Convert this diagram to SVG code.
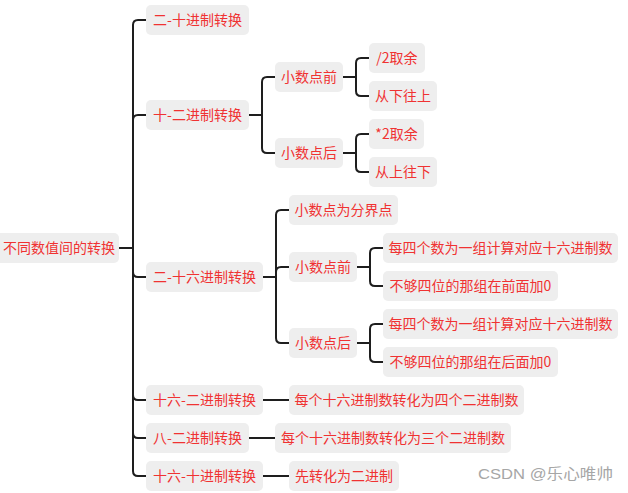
<svg xmlns="http://www.w3.org/2000/svg" width="628" height="493" viewBox="0 0 628 493">
<style>
.box{fill:#eeeeee}
.t{font-family:"Noto Sans CJK SC","Microsoft YaHei",sans-serif;font-size:14px;fill:#f03232;text-anchor:middle}
.c{fill:none;stroke:#1e1e1e;stroke-width:2}
.wm{font-family:"Liberation Sans","Noto Sans CJK SC",sans-serif;font-size:15px;fill:#a6a6a6}
</style>
<rect width="628" height="493" fill="#ffffff"/>
<g id="connectors">
<path class="c" d="M119,248 H133"/>
<path class="c" d="M133,248 V25 Q133,20 138,20 H146"/>
<path class="c" d="M133,248 V120 Q133,115 138,115 H146"/>
<path class="c" d="M133,248 V272 Q133,277 138,277 H146"/>
<path class="c" d="M133,248 V395 Q133,400 138,400 H146"/>
<path class="c" d="M133,248 V433 Q133,438 138,438 H146"/>
<path class="c" d="M133,248 V471 Q133,476 138,476 H146"/>
<path class="c" d="M249,115 H262"/>
<path class="c" d="M262,115 V82 Q262,77 267,77 H275"/>
<path class="c" d="M262,115 V148 Q262,153 267,153 H275"/>
<path class="c" d="M343,77 H356"/>
<path class="c" d="M356,77 V63 Q356,58 361,58 H369"/>
<path class="c" d="M356,77 V91 Q356,96 361,96 H369"/>
<path class="c" d="M343,153 H356"/>
<path class="c" d="M356,153 V139 Q356,134 361,134 H369"/>
<path class="c" d="M356,153 V167 Q356,172 361,172 H369"/>
<path class="c" d="M263,277 H276"/>
<path class="c" d="M276,277 V215 Q276,210 281,210 H289"/>
<path class="c" d="M276,277 V272 Q276,267 281,267 H289"/>
<path class="c" d="M276,277 V338 Q276,343 281,343 H289"/>
<path class="c" d="M357,267 H370"/>
<path class="c" d="M370,267 V253 Q370,248 375,248 H383"/>
<path class="c" d="M370,267 V281 Q370,286 375,286 H383"/>
<path class="c" d="M357,343 H370"/>
<path class="c" d="M370,343 V329 Q370,324 375,324 H383"/>
<path class="c" d="M370,343 V357 Q370,362 375,362 H383"/>
<path class="c" d="M263,400 H289"/>
<path class="c" d="M249,438 H275"/>
<path class="c" d="M263,476 H289"/>
</g>
<g id="root"><rect class="box" x="-4" y="233" width="123" height="30" rx="5"/><text class="t" x="59" y="253">不同数值间的转换</text></g>
<g id="n1"><rect class="box" x="146" y="5" width="103" height="30" rx="5"/><text class="t" x="197.5" y="25">二-十进制转换</text></g>
<g id="n2"><rect class="box" x="146" y="100" width="103" height="30" rx="5"/><text class="t" x="197.5" y="120">十-二进制转换</text></g>
<g id="n2a"><rect class="box" x="275" y="62" width="68" height="30" rx="5"/><text class="t" x="309" y="82">小数点前</text></g>
<g id="n2a1"><rect class="box" x="369" y="43" width="56" height="30" rx="5"/><text class="t" x="397" y="63">/2取余</text></g>
<g id="n2a2"><rect class="box" x="369" y="81" width="68" height="30" rx="5"/><text class="t" x="403" y="101">从下往上</text></g>
<g id="n2b"><rect class="box" x="275" y="138" width="68" height="30" rx="5"/><text class="t" x="309" y="158">小数点后</text></g>
<g id="n2b1"><rect class="box" x="369" y="119" width="55" height="30" rx="5"/><text class="t" x="396.5" y="139">*2取余</text></g>
<g id="n2b2"><rect class="box" x="369" y="157" width="68" height="30" rx="5"/><text class="t" x="403" y="177">从上往下</text></g>
<g id="n3"><rect class="box" x="146" y="262" width="117" height="30" rx="5"/><text class="t" x="204.5" y="282">二-十六进制转换</text></g>
<g id="n3a"><rect class="box" x="289" y="195" width="109" height="30" rx="5"/><text class="t" x="343.5" y="215">小数点为分界点</text></g>
<g id="n3b"><rect class="box" x="289" y="252" width="68" height="30" rx="5"/><text class="t" x="323" y="272">小数点前</text></g>
<g id="n3b1"><rect class="box" x="383" y="233" width="235" height="30" rx="5"/><text class="t" x="500.5" y="253">每四个数为一组计算对应十六进制数</text></g>
<g id="n3b2"><rect class="box" x="383" y="271" width="175" height="30" rx="5"/><text class="t" x="470.5" y="291">不够四位的那组在前面加0</text></g>
<g id="n3c"><rect class="box" x="289" y="328" width="68" height="30" rx="5"/><text class="t" x="323" y="348">小数点后</text></g>
<g id="n3c1"><rect class="box" x="383" y="309" width="235" height="30" rx="5"/><text class="t" x="500.5" y="329">每四个数为一组计算对应十六进制数</text></g>
<g id="n3c2"><rect class="box" x="383" y="347" width="175" height="30" rx="5"/><text class="t" x="470.5" y="367">不够四位的那组在后面加0</text></g>
<g id="n4"><rect class="box" x="146" y="385" width="117" height="30" rx="5"/><text class="t" x="204.5" y="405">十六-二进制转换</text></g>
<g id="n4a"><rect class="box" x="289" y="385" width="235" height="30" rx="5"/><text class="t" x="406.5" y="405">每个十六进制数转化为四个二进制数</text></g>
<g id="n5"><rect class="box" x="146" y="423" width="103" height="30" rx="5"/><text class="t" x="197.5" y="443">八-二进制转换</text></g>
<g id="n5a"><rect class="box" x="275" y="423" width="236" height="30" rx="5"/><text class="t" x="393" y="443">每个十六进制数转化为三个二进制数</text></g>
<g id="n6"><rect class="box" x="146" y="461" width="117" height="30" rx="5"/><text class="t" x="204.5" y="481">十六-十进制转换</text></g>
<g id="n6a"><rect class="box" x="289" y="461" width="110" height="30" rx="5"/><text class="t" x="344" y="481">先转化为二进制</text></g>
<text class="wm" x="478" y="479" textLength="135" lengthAdjust="spacingAndGlyphs">CSDN @乐心唯帅</text>
</svg>
